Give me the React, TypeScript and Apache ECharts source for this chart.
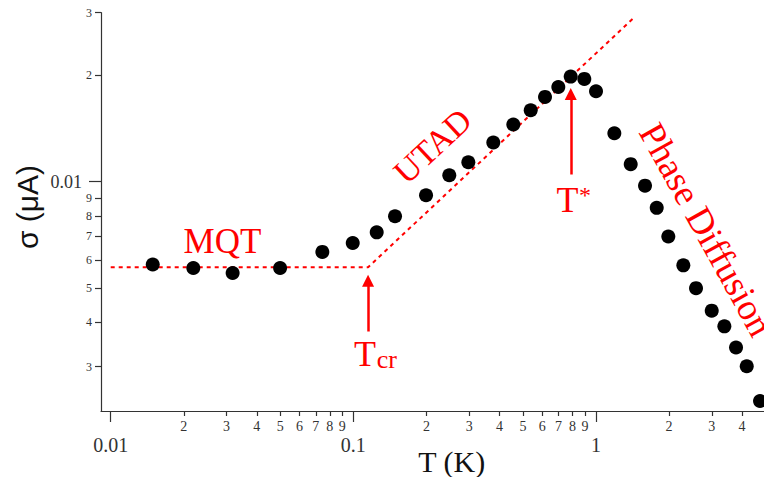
import { useEffect, useRef } from "react";
import * as echarts from "echarts";

// Measured data: temperature (K) and sigma (μA)
const T_K = [0.0149, 0.0219, 0.0318, 0.0499, 0.0745, 0.0994, 0.1248, 0.1485, 0.1993, 0.2485, 0.2977, 0.3773, 0.4562, 0.5381, 0.6163, 0.6993, 0.7865, 0.895, 1.0, 1.19, 1.39, 1.592, 1.779, 1.986, 2.29, 2.583, 2.998, 3.38, 3.776, 4.18, 4.742];
const SIGMA = [0.00583, 0.0057, 0.00552, 0.0057, 0.00633, 0.00671, 0.00719, 0.00798, 0.00915, 0.01042, 0.01134, 0.0129, 0.0145, 0.0159, 0.01735, 0.0185, 0.0198, 0.0195, 0.018, 0.0137, 0.0112, 0.00974, 0.00843, 0.007, 0.0058, 0.005, 0.00432, 0.0039, 0.0034, 0.00301, 0.0024];

// MQT plateau + UTAD fit (dashed)
const FIT_T = [0.01, 0.115, 1.421];
const FIT_SIGMA = [0.00573, 0.00573, 0.02888];

// Arrows (start -> tip)
const TCR_ARROW_T = 0.115;
const TCR_ARROW_SIGMA = [0.00377, 0.00525];
const TSTAR_ARROW_T = 0.787;
const TSTAR_ARROW_SIGMA = [0.01047, 0.01769];

// Axes
const X_RANGE = [0.00912, 4.924];
const Y_RANGE = [0.002249, 0.03];
const X_MAJOR_TICKS = [0.01, 0.1, 1];
const X_MINOR_TICKS = [0.02, 0.03, 0.04, 0.05, 0.06, 0.07, 0.08, 0.09, 0.2, 0.3, 0.4, 0.5, 0.6, 0.7, 0.8, 0.9, 2, 3, 4];
const Y_MAJOR_TICKS = [0.01];
const Y_MINOR_TICKS = [0.003, 0.004, 0.005, 0.006, 0.007, 0.008, 0.009, 0.02, 0.03];

const L = (v: number) => Math.log10(v);
const RED = "#ff0000";
const AXIS = "#333";
const SERIF = "Liberation Serif, DejaVu Serif, serif";
const SANS = "Liberation Sans, Arial, sans-serif";
const GRID = { left: 101, top: 12.7, width: 663, height: 398.3 };

const mantissa = (v: number) => {
  const e = Math.floor(v + 1e-9);
  return String(Math.round(Math.pow(10, v) / Math.pow(10, e)));
};
const majorLabel = (v: number) => String(parseFloat(Math.pow(10, v).toPrecision(3)));

function txt(text: string, x: number, y: number, size: number, opts: any = {}) {
  const align = opts.align || "center";
  return {
    type: "text",
    x,
    y,
    rotation: opts.rotation || 0,
    silent: true,
    z: 10,
    style: {
      text,
      fontSize: size,
      fontFamily: opts.family || SERIF,
      fill: opts.fill || RED,
      align,
      textAlign: align,
      verticalAlign: "middle",
      textVerticalAlign: "middle",
    },
  };
}

function buildOption() {
  const xBase = { type: "value", min: L(X_RANGE[0]), max: L(X_RANGE[1]), splitLine: { show: false } };
  const yBase = { type: "value", min: L(Y_RANGE[0]), max: L(Y_RANGE[1]), splitLine: { show: false } };
  return {
    animation: false,
    backgroundColor: "#fff",
    grid: [
      { ...GRID },
      { ...GRID },
    ],
    xAxis: [
      {
        ...xBase,
        gridIndex: 0,
        position: "bottom",
        axisLine: { show: true, onZero: false, lineStyle: { color: AXIS, width: 1.2 } },
        axisTick: { show: true, length: 5, lineStyle: { color: AXIS, width: 1.2 }, customValues: X_MINOR_TICKS.map(L) },
        axisLabel: { customValues: X_MINOR_TICKS.map(L), formatter: mantissa, fontFamily: SERIF, fontSize: 14, color: AXIS, margin: 8 },
      },
      {
        ...xBase,
        gridIndex: 1,
        position: "bottom",
        axisLine: { show: false, onZero: false },
        axisTick: { show: true, length: 11, lineStyle: { color: AXIS, width: 1.2 }, customValues: X_MAJOR_TICKS.map(L) },
        axisLabel: { customValues: X_MAJOR_TICKS.map(L), formatter: majorLabel, fontFamily: SERIF, fontSize: 20, color: AXIS, margin: 24 },
      },
    ],
    yAxis: [
      {
        ...yBase,
        gridIndex: 0,
        position: "left",
        axisLine: { show: true, onZero: false, lineStyle: { color: AXIS, width: 1.2 } },
        axisTick: { show: true, length: 6, lineStyle: { color: AXIS, width: 1.2 }, customValues: Y_MINOR_TICKS.map(L) },
        axisLabel: { customValues: Y_MINOR_TICKS.map(L), formatter: mantissa, fontFamily: SERIF, fontSize: 12, color: AXIS, margin: 9 },
      },
      {
        ...yBase,
        gridIndex: 1,
        position: "left",
        axisLine: { show: false, onZero: false },
        axisTick: { show: true, length: 12, lineStyle: { color: AXIS, width: 1.2 }, customValues: Y_MAJOR_TICKS.map(L) },
        axisLabel: { customValues: Y_MAJOR_TICKS.map(L), formatter: majorLabel, fontFamily: SERIF, fontSize: 18, color: AXIS, margin: 19 },
      },
    ],
    series: [
      {
        type: "line",
        xAxisIndex: 0,
        yAxisIndex: 0,
        data: FIT_T.map((t, i) => [L(t), L(FIT_SIGMA[i])]),
        showSymbol: false,
        symbol: "none",
        silent: true,
        lineStyle: { color: RED, width: 2, type: [4, 4] },
        z: 2,
      },
      {
        type: "lines",
        coordinateSystem: "cartesian2d",
        xAxisIndex: 0,
        yAxisIndex: 0,
        silent: true,
        symbol: ["none", "triangle"],
        symbolSize: 12,
        lineStyle: { color: RED, width: 2.5, opacity: 1, curveness: 0 },
        data: [
          { coords: [[L(TCR_ARROW_T), L(TCR_ARROW_SIGMA[0])], [L(TCR_ARROW_T), L(TCR_ARROW_SIGMA[1])]] },
          { coords: [[L(TSTAR_ARROW_T), L(TSTAR_ARROW_SIGMA[0])], [L(TSTAR_ARROW_T), L(TSTAR_ARROW_SIGMA[1])]] },
        ],
        z: 3,
      },
      {
        type: "scatter",
        xAxisIndex: 0,
        yAxisIndex: 0,
        symbol: "circle",
        symbolSize: 14,
        itemStyle: { color: "#000", opacity: 1 },
        data: T_K.map((t, i) => [L(t), L(SIGMA[i])]),
        z: 4,
      },
    ],
    graphic: [
      txt("σ (μA)", 27, 207, 30, { rotation: Math.PI / 2, family: SANS, fill: "#111" }),
      txt("T (K)", 451.7, 461, 30, { fill: "#111" }),
      txt("MQT", 222.5, 241, 35),
      txt("UTAD", 432.5, 146, 34, { rotation: 0.75 }),
      txt("Phase Diffusion", 649, 126, 37, { rotation: -1.065, align: "left" }),
      txt("T", 365, 354.2, 36),
      txt("cr", 376.7, 359.5, 26, { align: "left" }),
      txt("T", 567.5, 200, 36),
      txt("*", 579, 195, 24, { align: "left" }),
    ],
  };
}

export default function App() {
  const ref = useRef<HTMLDivElement>(null);
  useEffect(() => {
    if (!ref.current) return;
    const chart = echarts.init(ref.current, null, { renderer: "svg" });
    chart.setOption(buildOption() as any);
    return () => chart.dispose();
  }, []);
  return (
    <div
      ref={ref}
      style={{ position: "fixed", left: 0, top: 0, width: 764, height: 477, background: "#fff" }}
    />
  );
}
